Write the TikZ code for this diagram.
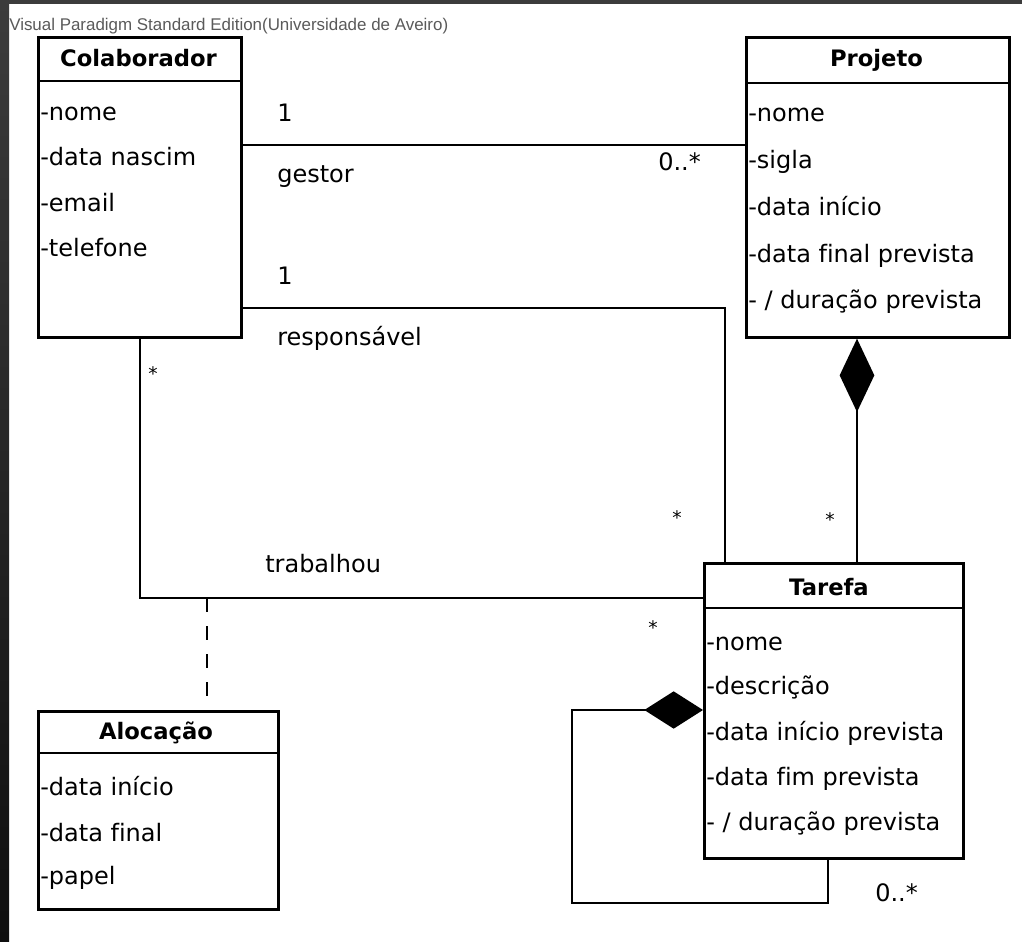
\documentclass[tikz,border=0pt]{standalone}
\usepackage{fontspec}
\setmainfont[Ligatures=NoCommon]{DejaVu Sans}
\newfontfamily\capfont{Liberation Sans}
\usetikzlibrary{arrows.meta}

\definecolor{frametop}{HTML}{3C3C3C}
\definecolor{framebot}{HTML}{0F0F0F}
\definecolor{captiongrey}{HTML}{5A5A5A}

\tikzset{
  classbox/.style={draw, line width=2pt, inner sep=0pt, anchor=north west},
  sepline/.style={line width=2pt},
  assoc/.style={line width=2pt},
  classtitle/.style={inner sep=0pt, anchor=center, font=\fontsize{17}{19}\selectfont\bfseries},
  attr/.style={inner sep=0pt, anchor=base west, font=\fontsize{18}{20}\selectfont},
  lbl/.style={inner sep=0pt, anchor=base west, font=\fontsize{18}{20}\selectfont},
  mult/.style={inner sep=0pt, anchor=base, font=\fontsize{14}{16}\selectfont},
}

\begin{document}
\begin{tikzpicture}[x=0.75pt, y=-0.75pt]
\useasboundingbox (0,0) rectangle (1022,942);
\fill[white] (0,0) rectangle (1022,942);

% editor caption
\node[inner sep=0pt, anchor=base west, text=captiongrey,
      font=\capfont\fontsize{12.7}{14}\selectfont] (caption) at (9,31)
      {Visual Paradigm Standard Edition(Universidade de Aveiro)};

% window frame
\fill[frametop] (0,0) rectangle (1022,4);
\shade[top color=frametop, bottom color=framebot] (0,0) rectangle (9,942);

% ---- classes ----
\node[classbox, minimum width=152.25pt, minimum height=225pt] (colab) at (37,36) {};
\coordinate (colabsep) at (0,81);
\draw[sepline] (colab.west |- colabsep) -- (colab.east |- colabsep);
\node[classtitle] (colabT) at (138.5,58) {Colaborador};
\node[attr] (c1) at (40,121) {-nome};
\node[attr] (c2) at (40,166) {-data nascim};
\node[attr] (c3) at (40,211) {-email};
\node[attr] (c4) at (40,256) {-telefone};

\node[classbox, minimum width=197.25pt, minimum height=225pt] (proj) at (745,36) {};
\coordinate (projsep) at (0,83);
\draw[sepline] (proj.west |- projsep) -- (proj.east |- projsep);
\node[classtitle] (projT) at (876.5,60) {Projeto};
\node[attr] (p1) at (748,122) {-nome};
\node[attr] (p2) at (748,168) {-sigla};
\node[attr] (p3) at (748,215) {-data início};
\node[attr] (p4) at (748,262) {-data final prevista};
\node[attr] (p5) at (748,308) {- / duração prevista};

\node[classbox, minimum width=194.25pt, minimum height=221.25pt] (tarefa) at (703,562) {};
\coordinate (tarsep) at (0,608);
\draw[sepline] (tarefa.west |- tarsep) -- (tarefa.east |- tarsep);
\node[classtitle] (tarT) at (829,587) {Tarefa};
\node[attr] (t1) at (706,650) {-nome};
\node[attr] (t2) at (706,694) {-descrição};
\node[attr] (t3) at (706,740) {-data início prevista};
\node[attr] (t4) at (706,785) {-data fim prevista};
\node[attr] (t5) at (706,830) {- / duração prevista};

\node[classbox, minimum width=180pt, minimum height=148.5pt] (aloc) at (37,710) {};
\coordinate (alocsep) at (0,753);
\draw[sepline] (aloc.west |- alocsep) -- (aloc.east |- alocsep);
\node[classtitle] (alocT) at (156,733) {Alocação};
\node[attr] (a1) at (40,795) {-data início};
\node[attr] (a2) at (40,841) {-data final};
\node[attr] (a3) at (40,884) {-papel};

% ---- associations ----
% gestor
\coordinate (gy) at (0,145);
\draw[assoc] (colab.east |- gy) -- (proj.west |- gy);
\node[lbl] (g1) at (277,122) {1};
\node[lbl] (gname) at (277,182) {gestor};
\node[lbl] (gm) at (658,171) {0..*};

% responsável
\coordinate (ry) at (0,308);
\coordinate (rx) at (725,0);
\draw[assoc] (colab.east |- ry) -| (tarefa.north -| rx);
\node[lbl] (r1) at (277,284) {1};
\node[lbl] (rname) at (277,345) {responsável};
\node[mult] (rm) at (677,524) {*};

% trabalhou
\coordinate (wy) at (0,598);
\draw[assoc] (colab.south) |- (tarefa.west |- wy);
\node[lbl] (wname) at (265,572) {trabalhou};
\node[mult] (wm1) at (153,380) {*};
\node[mult] (wm2) at (653,634) {*};

% association class link
\coordinate (ax) at (207,598);
\draw[line width=1.6pt, dash pattern=on 10.5pt off 10.5pt] (ax) -- (aloc.north -| ax);

% Projeto <>-- Tarefa
\coordinate (kx) at (857,0);
\draw[assoc, {Diamond[length=55pt, width=26pt]}-] (proj.south -| kx) -- (tarefa.north -| kx);
\node[mult] (km) at (830,526) {*};

% Tarefa <>-- Tarefa (sub-tasks)
\coordinate (l1) at (572,710);
\coordinate (l2) at (572,903);
\coordinate (l3) at (828,903);
\draw[assoc, {Diamond[length=44pt, width=28pt]}-] (tarefa.west |- l1) -- (l1) -- (l2) -- (l3) -- (tarefa.south -| l3);
\node[lbl] (lm) at (875,901) {0..*};
\end{tikzpicture}
\end{document}
